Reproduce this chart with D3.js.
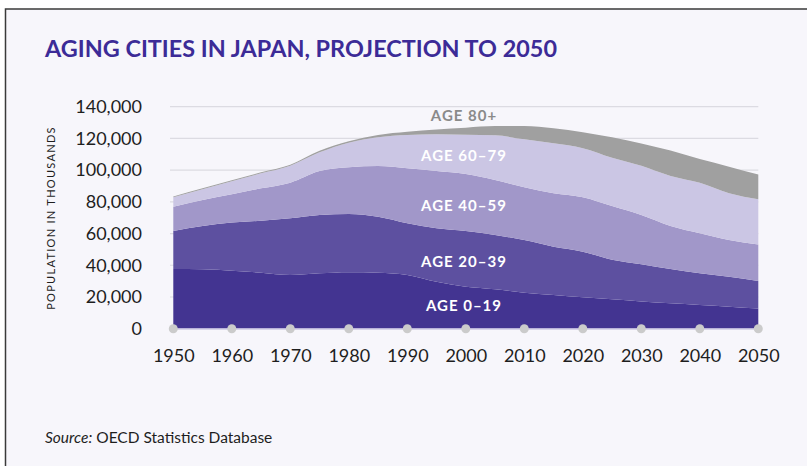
<!DOCTYPE html>
<html>
<head>
<meta charset="utf-8">
<script src="https://cdn.jsdelivr.net/npm/d3@7"></script>
<style>
  html, body { margin: 0; padding: 0; background: #ffffff; }
  svg { display: block; }
  text { font-family: Lato, "Noto Sans", sans-serif; }
</style>
</head>
<body>
<svg id="chart" width="807" height="466"></svg>
<script>
// ---- data (population in thousands) ----
const years = [1950, 1955, 1960, 1965, 1970, 1975, 1980, 1985, 1990, 1995, 2000,
               2005, 2010, 2015, 2020, 2025, 2030, 2035, 2040, 2045, 2050];
const age0_19  = [37700, 37500, 36600, 35300, 33900, 34900, 35600, 35300, 33900, 29600, 26500,
                  24900, 22700, 21300, 19800, 18500, 17200, 16000, 15000, 13900, 12700];
const age20_39 = [23900, 27300, 30300, 32800, 35700, 36800, 36700, 35300, 32600, 33700, 35100,
                  34200, 33200, 30400, 28800, 25000, 23500, 21700, 20000, 18900, 17400];
const age40_59 = [15300, 16400, 17900, 20400, 22500, 27700, 29500, 32000, 34700, 36200, 36000,
                  34700, 33300, 33700, 34300, 33800, 31000, 27100, 25200, 23100, 23000];
const age60_79 = [6000, 6800, 8200, 9500, 10700, 11800, 15500, 18100, 21000, 23100, 24700,
                  28200, 30200, 31500, 30900, 30500, 31000, 31500, 31800, 29500, 28500];
const age80p   = [400, 500, 600, 600, 600, 1000, 900, 1500, 2000, 3100, 4500,
                  5800, 8400, 9500, 10100, 12900, 14100, 16000, 15000, 16800, 15600];

const seriesKeys   = ["age0_19", "age20_39", "age40_59", "age60_79", "age80p"];
const seriesLabels = ["AGE 0–19", "AGE 20–39", "AGE 40–59", "AGE 60–79", "AGE 80+"];
const xTicks = [1950, 1960, 1970, 1980, 1990, 2000, 2010, 2020, 2030, 2040, 2050];
const yTicks = [0, 20000, 40000, 60000, 80000, 100000, 120000, 140000];
const titleText = "AGING CITIES IN JAPAN, PROJECTION TO 2050";
const yAxisTitle = "POPULATION IN THOUSANDS";

// ---- build table ----
const table = years.map((yr, i) => ({
  year: yr,
  age0_19: age0_19[i], age20_39: age20_39[i], age40_59: age40_59[i],
  age60_79: age60_79[i], age80p: age80p[i]
}));

const colors = {
  age0_19: "#433491",
  age20_39: "#5d50a0",
  age40_59: "#a197c9",
  age60_79: "#cbc6e4",
  age80p: "#a0a0a0"
};

const svg = d3.select("#chart");

// frame
svg.append("rect")
  .attr("x", 5.5).attr("y", 9)
  .attr("width", 850).attr("height", 500)
  .attr("fill", "#f7f6fb")
  .attr("stroke", "#3a3a3a").attr("stroke-width", 1.5);

// title
svg.append("text")
  .attr("x", 45).attr("y", 57)
  .attr("fill", "#3c2b97")
  .attr("font-size", 22).attr("font-weight", 700)
  .attr("textLength", 512).attr("lengthAdjust", "spacingAndGlyphs")
  .text(titleText);

// scales
const x = d3.scaleLinear().domain([1950, 2050]).range([173.3, 758.3]);
const y = d3.scaleLinear().domain([0, 140000]).range([328.7, 106.7]);

// gridlines
svg.append("g").selectAll("line")
  .data(yTicks.filter(d => d > 0))
  .join("line")
  .attr("x1", 170).attr("x2", x(2050))
  .attr("y1", d => y(d)).attr("y2", d => y(d))
  .attr("stroke", "#dcdbe2").attr("stroke-width", 1.2);

// stacked areas
const stack = d3.stack().keys(seriesKeys);
const stacked = stack(table);
const area = d3.area()
  .x(d => x(d.data.year))
  .y0(d => y(d[0]))
  .y1(d => y(d[1]))
  .curve(d3.curveMonotoneX);

svg.append("g").selectAll("path")
  .data(stacked)
  .join("path")
  .attr("fill", d => colors[d.key])
  .attr("d", area);

// baseline
svg.append("line")
  .attr("x1", x(1950)).attr("x2", x(2050))
  .attr("y1", y(0)).attr("y2", y(0))
  .attr("stroke", "#b9b2d9").attr("stroke-width", 1.5);

// dots at ticks
svg.append("g").selectAll("circle")
  .data(xTicks)
  .join("circle")
  .attr("cx", d => x(d)).attr("cy", y(0))
  .attr("r", 4.5)
  .attr("fill", "#cbcbcb");

// y axis
const yAxis = d3.axisLeft(y).tickValues(yTicks).tickSize(0).tickPadding(0)
  .tickFormat(d3.format(","));
const gy = svg.append("g").attr("transform", "translate(142,0)").call(yAxis);
gy.select(".domain").remove();
gy.selectAll("text")
  .attr("fill", "#1e1e1e")
  .attr("font-size", 18)
  .attr("font-family", "Lato, sans-serif");

// x axis
const xAxis = d3.axisBottom(x).tickValues(xTicks).tickSize(0).tickPadding(0)
  .tickFormat(d3.format("d"));
const gx = svg.append("g").attr("transform", "translate(0,349)").call(xAxis);
gx.select(".domain").remove();
gx.selectAll("text")
  .attr("fill", "#1e1e1e")
  .attr("font-size", 18)
  .attr("font-family", "Lato, sans-serif");

// y axis title
svg.append("text")
  .attr("transform", "translate(55,218) rotate(-90)")
  .attr("text-anchor", "middle")
  .attr("fill", "#1e1e1e")
  .attr("font-size", 11)
  .attr("letter-spacing", 1.3)
  .text(yAxisTitle);

// series labels
const labelBaselines = [311, 267, 211, 161, 121];
const labelColors = ["#ffffff", "#ffffff", "#ffffff", "#ffffff", "#8a8a8a"];
svg.append("g").selectAll("text")
  .data(seriesLabels)
  .join("text")
  .attr("x", 464)
  .attr("y", (d, i) => labelBaselines[i])
  .attr("text-anchor", "middle")
  .attr("fill", (d, i) => labelColors[i])
  .attr("font-size", 15).attr("font-weight", 700)
  .attr("letter-spacing", 1)
  .text(d => d);

// source
const src = svg.append("text")
  .attr("x", 45).attr("y", 443)
  .attr("fill", "#1e1e1e")
  .attr("font-size", 15.5);
src.append("tspan").attr("font-style", "italic").text("Source:");
src.append("tspan").text(" OECD Statistics Database");
</script>
</body>
</html>
